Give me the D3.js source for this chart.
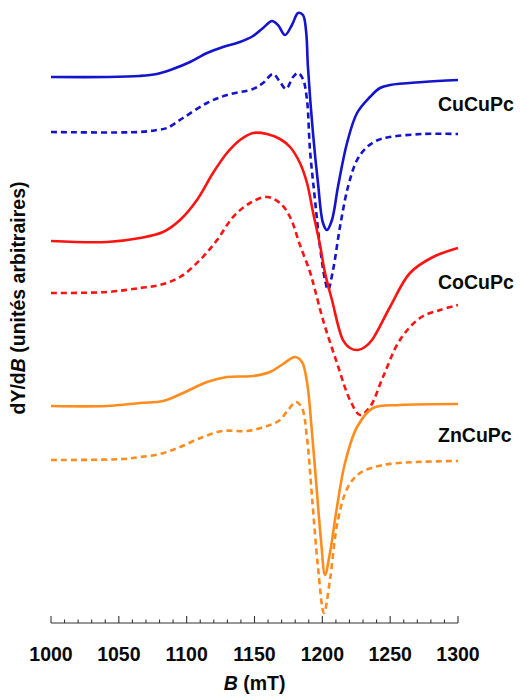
<!DOCTYPE html>
<html>
<head>
<meta charset="utf-8">
<script src="https://cdn.jsdelivr.net/npm/d3@7"></script>
<style>
  html, body { margin: 0; padding: 0; background: #fff; }
  svg { display: block; }
  text { font-family: "Liberation Sans", Arial, sans-serif; font-weight: bold; fill: #0a0a0a; }
</style>
</head>
<body>
<svg id="chart" width="520" height="697"></svg>
<script>
// Field values (mT) and signal (arbitrary units)
const cuSolidB = [1000,1041.3,1065,1078,1089.9,1102.5,1115,1126.8,1139.3,1148.9,1156.3,1162.9,1167.3,1172.5,1177.6,1182.1,1185.7,1188,1189.4,1193.1,1196.8,1200.5,1203.4,1207.1,1211.5,1218.2,1225.6,1235.1,1242.5,1249.9,1274.2,1300];
const cuSolidY = [546,546,547,549,554,561,570,576,581,587,595,602,598,588,598,610,608,592,556,490,440,400,393,403,436,480,510,526,535,538,541,543];

const cuDashB = [1000,1065,1078,1085.5,1097.3,1115,1129.7,1148.9,1156.3,1163.6,1168.8,1173.2,1178.4,1182.1,1185.7,1188.7,1190.9,1194.6,1198.3,1202,1204.2,1207.9,1213,1218.9,1225.6,1232.9,1241,1249.9,1274.2,1300];
const cuDashY = [491,491,493,495,505,520,528,534,540,549,541,534,546,550,544,523,473,423,376,343,333,353,396,436,463,476,483,486,489,489];

const coSolidB = [1000,1041.3,1065.6,1082.6,1095.1,1107.6,1119.4,1129.7,1139.3,1148.9,1159.2,1168.8,1176.2,1183.5,1188.7,1193.1,1198.3,1202,1207.1,1215.2,1220.4,1226.3,1231.4,1236.6,1249.9,1264.6,1281.6,1300];
const coSolidY = [382,381,385,391,403,423,450,470,483,490,489,484,476,460,440,411,378,350,323,283,275,273,276,283,316,350,366,375];

const coDashB = [1000,1041.3,1065.6,1080.3,1095.1,1109.8,1122.4,1134.2,1146.7,1159.2,1168.8,1176.2,1183.5,1190.9,1194.6,1200.5,1210.8,1220.4,1227.8,1235.1,1244.7,1257.2,1272,1286.7,1300];
const coDashY = [330,331,335,338,346,363,383,406,420,426,420,406,378,351,333,303,260,223,208,216,246,283,305,313,318];

const znSolidB = [1000,1041.3,1065.6,1082.6,1097.3,1115,1129.7,1148.9,1161.4,1171,1179.9,1185,1188.7,1191.6,1195.3,1199,1202,1205.6,1210.8,1216.7,1225.6,1237.3,1257.2,1300];
const znSolidY = [217,217,220,222,230,241,246,247,251,259,266,261,241,203,143,83,48,70,116,160,196,215,218,219];

const znDashB = [1000,1053.1,1065.6,1080.3,1095.1,1112,1126.8,1144.5,1159.2,1168.8,1174.7,1180.6,1185,1188.7,1192.4,1196.8,1201.2,1205.6,1211.5,1218.9,1227.8,1244.7,1269.8,1300];
const znDashY = [163,164,166,169,176,186,192,192,197,203,213,221,215,185,126,56,10,43,103,136,150,158,161,162];

const seriesNames = ["CuCuPc","CoCuPc","ZnCuPc"];
const seriesColors = ["#1414cc","#ff1212","#ff8c1e"];

const xTicks = [1000,1050,1100,1150,1200,1250,1300];

const svg = d3.select("#chart");
const x = d3.scaleLinear().domain([1000,1300]).range([51,458]);
const y = d3.scaleLinear().domain([0,610]).range([623,13]);

const line = d3.line()
  .x(d => x(d[0]))
  .y(d => y(d[1]))
  .curve(d3.curveCatmullRom.alpha(0.5));

const zip = (a,b) => a.map((v,i) => [v,b[i]]);

const curves = [
  {b: cuSolidB, v: cuSolidY, c: 0, dash: null},
  {b: cuDashB,  v: cuDashY,  c: 0, dash: "6,4"},
  {b: coSolidB, v: coSolidY, c: 1, dash: null},
  {b: coDashB,  v: coDashY,  c: 1, dash: "6,4"},
  {b: znSolidB, v: znSolidY, c: 2, dash: null},
  {b: znDashB,  v: znDashY,  c: 2, dash: "6,4"}
];

const g = svg.append("g");
curves.forEach(cv => {
  g.append("path")
    .attr("d", line(zip(cv.b, cv.v)))
    .attr("fill","none")
    .attr("stroke", seriesColors[cv.c])
    .attr("stroke-width", 2.6)
    .attr("stroke-linejoin","round")
    .attr("stroke-dasharray", cv.dash);
});

// sample labels
const labelBaselines = [111, 289, 442];
seriesNames.forEach((n,i) => {
  svg.append("text")
    .attr("x", 438)
    .attr("y", labelBaselines[i])
    .attr("font-size", "19.5px")
    .text(n);
});

// x axis
const axisY = 623;
const axisG = svg.append("g").attr("transform", `translate(0,${axisY})`);
axisG.append("line")
  .attr("x1", x(1000)).attr("x2", x(1300))
  .attr("y1", 0).attr("y2", 0)
  .attr("stroke", "#333").attr("stroke-width", 1.2);
const minor = d3.range(1000, 1301, 10);
axisG.selectAll("line.minor").data(minor).enter().append("line")
  .attr("x1", d => x(d)).attr("x2", d => x(d))
  .attr("y1", 0).attr("y2", d => (d % 50 === 0) ? -7 : -3.5)
  .attr("stroke", "#333").attr("stroke-width", 1.1);
axisG.selectAll("text.tick").data(xTicks).enter().append("text")
  .attr("x", d => x(d))
  .attr("y", 38)
  .attr("text-anchor", "middle")
  .attr("font-size", "19.5px")
  .text(d => d);

// x axis title
const xt = svg.append("text")
  .attr("x", (x(1000)+x(1300))/2)
  .attr("y", 690)
  .attr("text-anchor","middle")
  .attr("font-size","19.5px");
xt.append("tspan").attr("font-style","italic").text("B");
xt.append("tspan").text(" (mT)");

// y axis title
const yt = svg.append("text")
  .attr("transform","translate(25,298) rotate(-90)")
  .attr("text-anchor","middle")
  .attr("font-size","19.5px");
yt.append("tspan").text("dY/d");
yt.append("tspan").attr("font-style","italic").text("B");
yt.append("tspan").text(" (unités arbitraires)");
</script>
</body>
</html>
